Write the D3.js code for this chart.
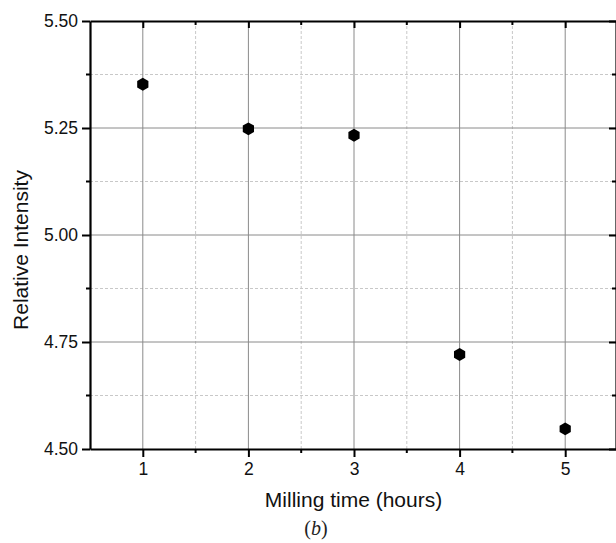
<!DOCTYPE html>
<html><head><meta charset="utf-8">
<script src="https://cdn.jsdelivr.net/npm/d3@7"></script>
<style>body{margin:0;background:#fff}svg{display:block}text{font-family:"Liberation Sans",Arial,sans-serif}</style>
</head><body>
<svg id="c" width="616" height="543"></svg>
<script>
const millingHours = [1, 2, 3, 4, 5];
const relIntensity = [5.352, 5.248, 5.233, 4.721, 4.547];
const xTicks = [1, 2, 3, 4, 5];
const xMinor = [1.5, 2.5, 3.5, 4.5];
const yTicks = [4.50, 4.75, 5.00, 5.25, 5.50];
const yMinor = [4.625, 4.875, 5.125, 5.375];

(function () {
const svg = d3.select("#c");
const L = 90, R = 618, T = 21, B = 449;
const x = d3.scaleLinear().domain([0.5, 5.5]).range([L, R]);
const y = d3.scaleLinear().domain([4.5, 5.5]).range([B, T]);

// minor grid
const g = svg.append("g");
g.selectAll(".mx").data(xMinor).join("line")
  .attr("x1", d => x(d)).attr("x2", d => x(d)).attr("y1", T).attr("y2", B)
  .attr("stroke", "#c8c8c8").attr("stroke-dasharray", "3,2").attr("stroke-width", 1);
g.selectAll(".my").data(yMinor).join("line")
  .attr("y1", d => y(d)).attr("y2", d => y(d)).attr("x1", L).attr("x2", R)
  .attr("stroke", "#c8c8c8").attr("stroke-dasharray", "3,2").attr("stroke-width", 1);
// major grid
g.selectAll(".gx").data(xTicks).join("line")
  .attr("x1", d => x(d)).attr("x2", d => x(d)).attr("y1", T).attr("y2", B)
  .attr("stroke", "#8a8a8a").attr("stroke-width", 1);
g.selectAll(".gy").data(yTicks.slice(1, -1)).join("line")
  .attr("y1", d => y(d)).attr("y2", d => y(d)).attr("x1", L).attr("x2", R)
  .attr("stroke", "#8a8a8a").attr("stroke-width", 1);

// axes
const fmt = d3.format(".2f");
const axB = svg.append("g").attr("transform", `translate(0,${B})`)
  .call(d3.axisBottom(x).tickValues(xTicks).tickFormat(d3.format("d")).tickSize(8).tickSizeOuter(0).tickPadding(6));
axB.append("g").selectAll("line").data(xMinor).join("line")
  .attr("x1", d => x(d)).attr("x2", d => x(d)).attr("y1", 0).attr("y2", 4).attr("stroke", "#000").attr("stroke-width", 2);
const axL = svg.append("g").attr("transform", `translate(${L},0)`)
  .call(d3.axisLeft(y).tickValues(yTicks).tickFormat(fmt).tickSize(8).tickSizeOuter(0).tickPadding(4));
axL.append("g").selectAll("line").data(yMinor).join("line")
  .attr("y1", d => y(d)).attr("y2", d => y(d)).attr("x1", 0).attr("x2", -4).attr("stroke", "#000").attr("stroke-width", 2);
const axT = svg.append("g").attr("transform", `translate(0,${T})`)
  .call(d3.axisTop(x).tickValues(xTicks).tickFormat("").tickSize(-7).tickSizeOuter(0));
axT.append("g").selectAll("line").data(xMinor).join("line")
  .attr("x1", d => x(d)).attr("x2", d => x(d)).attr("y1", 0).attr("y2", 4).attr("stroke", "#000").attr("stroke-width", 2);
const axR = svg.append("g").attr("transform", `translate(${R - 2},0)`)
  .call(d3.axisRight(y).tickValues(yTicks).tickFormat("").tickSize(-7).tickSizeOuter(0));
axR.append("g").selectAll("line").data(yMinor).join("line")
  .attr("y1", d => y(d)).attr("y2", d => y(d)).attr("x1", 0).attr("x2", -4).attr("stroke", "#000").attr("stroke-width", 2);

[axB, axL, axT, axR].forEach(a => {
  a.select(".domain").attr("stroke", "#000").attr("stroke-width", 2.2);
  a.selectAll(".tick line").attr("stroke", "#000").attr("stroke-width", 2);
  a.selectAll(".tick text").attr("fill", "#111").attr("font-size", null)
    .style("font-size", "17.5px").style("font-family", "Liberation Sans, Arial, sans-serif");
  a.attr("font-size", null).attr("font-family", null);
});

// points (hexagons)
const hex = d3.symbol().type({draw(ctx, size) {
  const r = Math.sqrt(size);
  for (let i = 0; i < 6; i++) {
    const a = Math.PI / 3 * i + Math.PI / 6;
    const px = r * Math.cos(a), py = r * Math.sin(a);
    i ? ctx.lineTo(px, py) : ctx.moveTo(px, py);
  }
  ctx.closePath();
}}).size(42);
svg.append("g").selectAll("path").data(millingHours).join("path")
  .attr("d", hex)
  .attr("transform", (d, i) => `translate(${x(d)},${y(relIntensity[i])})`)
  .attr("fill", "#000");

// titles
svg.append("text").attr("x", 353.5).attr("y", 507).attr("text-anchor", "middle")
  .style("font-size", "21px").attr("fill", "#111").text("Milling time (hours)");
svg.append("text").attr("transform", `translate(28,250) rotate(-90)`).attr("text-anchor", "middle")
  .style("font-size", "21px").attr("fill", "#111").text("Relative Intensity");
const cap = svg.append("text").attr("x", 316).attr("y", 535).attr("text-anchor", "middle")
  .style("font-size", "20px").style("font-family", "Liberation Serif, Times New Roman, serif").attr("fill", "#222");
cap.append("tspan").text("(");
cap.append("tspan").style("font-style", "italic").text("b");
cap.append("tspan").text(")");
})();
</script>
</body></html>
